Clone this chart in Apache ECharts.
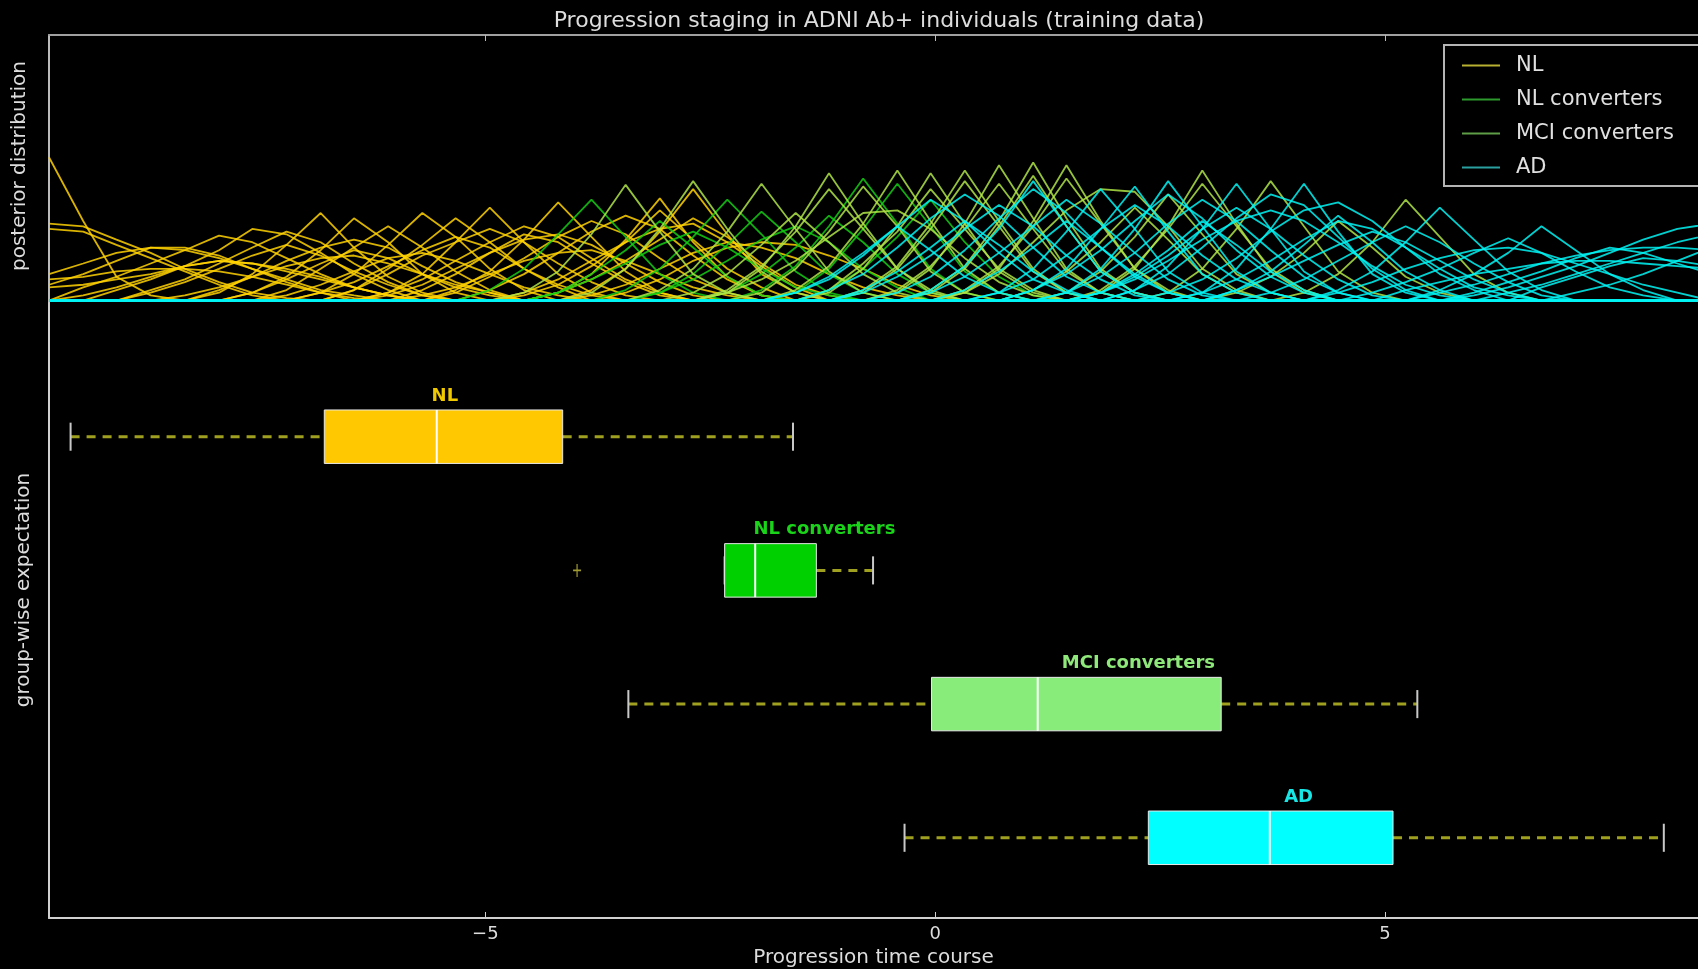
<!DOCTYPE html>
<html>
<head>
<meta charset="utf-8">
<title>Progression staging in ADNI Ab+ individuals</title>
<script src="https://cdn.jsdelivr.net/npm/echarts@6/dist/echarts.min.js"></script>
<style>
  html, body { margin: 0; padding: 0; background: #000; }
  #chart { width: 1698px; height: 969px; }
</style>
</head>
<body>
<div id="chart"></div>
<script>
// ---- data -------------------------------------------------------------

// evaluation grid of the progression time course (shared by every posterior curve)
const gridX = [-9.85, -9.47, -9.10, -8.72, -8.34, -7.96, -7.59, -7.21, -6.83, -6.46,
  -6.08, -5.70, -5.33, -4.95, -4.57, -4.19, -3.82, -3.44, -3.06, -2.69,
  -2.31, -1.93, -1.55, -1.18, -0.80, -0.42, -0.05, 0.33, 0.71, 1.09,
  1.46, 1.84, 2.22, 2.59, 2.97, 3.35, 3.73, 4.10, 4.48, 4.86,
  5.23, 5.61, 5.99, 6.37, 6.74, 7.12, 7.50, 7.87, 8.25, 8.63];

// per-individual posteriors: [first grid index, values...]; zero elsewhere
const nlCurves = [
  [0, 0.54, 0.30, 0.09, 0.02],
  [0, 0.29, 0.28, 0.23, 0.18, 0.12, 0.07, 0.03, 0.01],
  [0, 0.27, 0.26, 0.21, 0.16, 0.11, 0.06, 0.02],
  [0, 0.10, 0.14, 0.18, 0.20, 0.19, 0.16, 0.12, 0.08, 0.04, 0.02],
  [0, 0.06, 0.10, 0.15, 0.20, 0.20, 0.17, 0.12, 0.07, 0.03],
  [0, 0.08, 0.09, 0.11, 0.12, 0.12, 0.11, 0.09, 0.06, 0.03, 0.01],
  [0, 0.05, 0.06, 0.08, 0.10, 0.13, 0.15, 0.14, 0.12, 0.09, 0.05, 0.02],
  [1, 0.05, 0.09, 0.14, 0.19, 0.245, 0.22, 0.16, 0.10, 0.05, 0.02],
  [1, 0.02, 0.05, 0.09, 0.13, 0.15, 0.14, 0.11, 0.08, 0.05, 0.02],
  [2, 0.04, 0.08, 0.13, 0.19, 0.27, 0.25, 0.18, 0.10, 0.04],
  [3, 0.04, 0.08, 0.14, 0.20, 0.26, 0.22, 0.14, 0.07, 0.02],
  [3, 0.03, 0.07, 0.12, 0.17, 0.21, 0.17, 0.11, 0.06, 0.02],
  [4, 0.02, 0.05, 0.09, 0.13, 0.16, 0.17, 0.14, 0.10, 0.06, 0.03],
  [5, 0.03, 0.10, 0.21, 0.33, 0.20, 0.09, 0.03],
  [5, 0.04, 0.09, 0.15, 0.20, 0.23, 0.20, 0.13, 0.07, 0.03],
  [6, 0.03, 0.09, 0.19, 0.31, 0.22, 0.10, 0.03],
  [6, 0.03, 0.08, 0.14, 0.19, 0.16, 0.10, 0.05, 0.02],
  [7, 0.04, 0.12, 0.20, 0.28, 0.20, 0.11, 0.04],
  [7, 0.02, 0.06, 0.11, 0.16, 0.18, 0.15, 0.10, 0.05, 0.02],
  [8, 0.03, 0.10, 0.21, 0.33, 0.24, 0.12, 0.04],
  [8, 0.03, 0.07, 0.13, 0.19, 0.24, 0.20, 0.12, 0.06, 0.02],
  [9, 0.04, 0.12, 0.21, 0.31, 0.22, 0.12, 0.05],
  [9, 0.04, 0.10, 0.17, 0.22, 0.27, 0.22, 0.14, 0.07, 0.02],
  [10, 0.03, 0.10, 0.22, 0.35, 0.22, 0.10, 0.03],
  [10, 0.03, 0.08, 0.15, 0.22, 0.28, 0.24, 0.16, 0.08, 0.03],
  [10, 0.02, 0.06, 0.12, 0.18, 0.23, 0.25, 0.21, 0.14, 0.07, 0.02],
  [11, 0.04, 0.10, 0.18, 0.25, 0.22, 0.14, 0.07, 0.02],
  [11, 0.02, 0.05, 0.10, 0.15, 0.18, 0.19, 0.15, 0.10, 0.05, 0.02],
  [12, 0.04, 0.11, 0.23, 0.37, 0.24, 0.11, 0.03],
  [12, 0.03, 0.09, 0.16, 0.24, 0.30, 0.25, 0.16, 0.08, 0.03],
  [13, 0.04, 0.10, 0.18, 0.26, 0.32, 0.27, 0.17, 0.08, 0.02],
  [14, 0.03, 0.08, 0.15, 0.22, 0.27, 0.29, 0.22, 0.13, 0.05],
  [14, 0.02, 0.06, 0.13, 0.22, 0.34, 0.23, 0.12, 0.05],
  [15, 0.03, 0.10, 0.23, 0.385, 0.22, 0.09, 0.02],
  [15, 0.03, 0.08, 0.15, 0.23, 0.31, 0.24, 0.14, 0.06, 0.02],
  [16, 0.04, 0.12, 0.26, 0.42, 0.25, 0.10, 0.03],
  [16, 0.02, 0.06, 0.12, 0.18, 0.22, 0.20, 0.16, 0.10, 0.05, 0.02],
  [17, 0.03, 0.08, 0.15, 0.20, 0.22, 0.21, 0.17, 0.12, 0.06, 0.02]
];

const nlConvCurves = [
  [13, 0.04, 0.12, 0.25, 0.38, 0.24, 0.10, 0.03],
  [15, 0.03, 0.10, 0.19, 0.30, 0.20, 0.09, 0.02],
  [15, 0.03, 0.08, 0.14, 0.21, 0.26, 0.20, 0.12, 0.05, 0.02],
  [17, 0.04, 0.12, 0.24, 0.38, 0.25, 0.11, 0.03],
  [18, 0.03, 0.10, 0.21, 0.335, 0.22, 0.10, 0.03],
  [18, 0.03, 0.08, 0.15, 0.23, 0.28, 0.22, 0.12, 0.05],
  [20, 0.03, 0.10, 0.20, 0.32, 0.22, 0.10, 0.03],
  [21, 0.04, 0.13, 0.28, 0.46, 0.29, 0.12, 0.03],
  [22, 0.03, 0.12, 0.27, 0.44, 0.28, 0.11, 0.03],
  [23, 0.04, 0.12, 0.24, 0.38, 0.22, 0.09, 0.02]
];

const mciConvCurves = [
  [14, 0.03, 0.11, 0.25, 0.436, 0.26, 0.10, 0.03],
  [16, 0.03, 0.12, 0.27, 0.45, 0.27, 0.11, 0.03],
  [18, 0.04, 0.12, 0.26, 0.44, 0.27, 0.11, 0.03],
  [19, 0.03, 0.10, 0.21, 0.33, 0.22, 0.10, 0.03],
  [20, 0.03, 0.12, 0.28, 0.48, 0.29, 0.12, 0.03],
  [20, 0.04, 0.13, 0.26, 0.42, 0.27, 0.12, 0.04],
  [20, 0.03, 0.08, 0.15, 0.24, 0.33, 0.34, 0.27, 0.16, 0.07, 0.02],
  [21, 0.03, 0.12, 0.26, 0.43, 0.28, 0.11, 0.03],
  [22, 0.04, 0.13, 0.29, 0.49, 0.30, 0.12, 0.03],
  [23, 0.03, 0.12, 0.28, 0.48, 0.29, 0.11, 0.03],
  [23, 0.04, 0.14, 0.26, 0.42, 0.27, 0.12, 0.04],
  [24, 0.04, 0.13, 0.29, 0.49, 0.30, 0.12, 0.03],
  [24, 0.03, 0.12, 0.27, 0.45, 0.28, 0.11, 0.03],
  [25, 0.03, 0.12, 0.29, 0.51, 0.31, 0.12, 0.03],
  [25, 0.04, 0.13, 0.27, 0.44, 0.27, 0.11, 0.03],
  [26, 0.04, 0.13, 0.30, 0.52, 0.31, 0.12, 0.03],
  [26, 0.03, 0.12, 0.28, 0.47, 0.28, 0.11, 0.03],
  [27, 0.03, 0.12, 0.30, 0.51, 0.30, 0.12, 0.03],
  [27, 0.04, 0.13, 0.28, 0.46, 0.29, 0.12, 0.04],
  [27, 0.03, 0.10, 0.22, 0.34, 0.42, 0.41, 0.28, 0.12, 0.04],
  [29, 0.04, 0.11, 0.22, 0.35, 0.23, 0.10, 0.03],
  [30, 0.03, 0.11, 0.24, 0.40, 0.25, 0.10, 0.03],
  [31, 0.03, 0.12, 0.28, 0.49, 0.29, 0.11, 0.03],
  [31, 0.04, 0.13, 0.27, 0.44, 0.28, 0.12, 0.04],
  [33, 0.03, 0.12, 0.27, 0.45, 0.28, 0.11, 0.03],
  [35, 0.03, 0.09, 0.18, 0.30, 0.20, 0.09, 0.03],
  [37, 0.03, 0.10, 0.22, 0.38, 0.24, 0.10, 0.03]
];

const adCurves = [
  [22, 0.03, 0.08, 0.17, 0.28, 0.38, 0.30, 0.18, 0.08, 0.03],
  [22, 0.03, 0.09, 0.18, 0.28, 0.19, 0.09, 0.03],
  [23, 0.04, 0.10, 0.20, 0.31, 0.40, 0.32, 0.20, 0.09, 0.03],
  [24, 0.03, 0.09, 0.17, 0.27, 0.36, 0.28, 0.17, 0.08, 0.02],
  [24, 0.04, 0.11, 0.20, 0.30, 0.21, 0.11, 0.04],
  [25, 0.03, 0.09, 0.19, 0.31, 0.42, 0.33, 0.20, 0.09, 0.03],
  [26, 0.04, 0.13, 0.27, 0.45, 0.28, 0.11, 0.03],
  [26, 0.03, 0.09, 0.18, 0.28, 0.38, 0.29, 0.18, 0.08, 0.02],
  [27, 0.04, 0.11, 0.20, 0.30, 0.20, 0.10, 0.03],
  [28, 0.03, 0.12, 0.26, 0.42, 0.27, 0.11, 0.03],
  [28, 0.03, 0.08, 0.17, 0.27, 0.36, 0.28, 0.17, 0.08, 0.03],
  [29, 0.04, 0.12, 0.27, 0.43, 0.26, 0.10, 0.03],
  [29, 0.04, 0.10, 0.19, 0.30, 0.40, 0.31, 0.19, 0.09, 0.03],
  [30, 0.03, 0.12, 0.27, 0.45, 0.28, 0.11, 0.03],
  [30, 0.03, 0.09, 0.18, 0.29, 0.38, 0.30, 0.19, 0.09, 0.03],
  [31, 0.03, 0.08, 0.15, 0.23, 0.30, 0.34, 0.30, 0.22, 0.13, 0.06, 0.02],
  [31, 0.03, 0.09, 0.17, 0.27, 0.35, 0.27, 0.17, 0.08, 0.02],
  [31, 0.03, 0.10, 0.19, 0.30, 0.21, 0.11, 0.04],
  [32, 0.04, 0.13, 0.27, 0.44, 0.27, 0.11, 0.03],
  [32, 0.04, 0.10, 0.20, 0.31, 0.40, 0.36, 0.24, 0.12, 0.04],
  [33, 0.03, 0.08, 0.16, 0.26, 0.34, 0.37, 0.30, 0.20, 0.10, 0.04],
  [34, 0.03, 0.12, 0.27, 0.44, 0.26, 0.10, 0.03],
  [34, 0.03, 0.08, 0.15, 0.23, 0.30, 0.27, 0.20, 0.12, 0.05, 0.02],
  [35, 0.04, 0.11, 0.21, 0.32, 0.22, 0.11, 0.04],
  [35, 0.04, 0.09, 0.15, 0.21, 0.26, 0.22, 0.15, 0.08, 0.03],
  [36, 0.03, 0.08, 0.15, 0.22, 0.28, 0.22, 0.14, 0.07, 0.02],
  [38, 0.04, 0.11, 0.22, 0.35, 0.23, 0.11, 0.04],
  [38, 0.03, 0.07, 0.12, 0.16, 0.19, 0.20, 0.18, 0.14, 0.10, 0.06, 0.03],
  [39, 0.03, 0.07, 0.12, 0.18, 0.235, 0.18, 0.11, 0.05, 0.02],
  [40, 0.04, 0.07, 0.10, 0.12, 0.14, 0.15, 0.15, 0.14, 0.13, 0.12],
  [41, 0.04, 0.10, 0.18, 0.28, 0.19, 0.10, 0.04],
  [41, 0.03, 0.06, 0.10, 0.14, 0.17, 0.19, 0.20, 0.20, 0.19],
  [42, 0.02, 0.05, 0.09, 0.13, 0.18, 0.23, 0.27, 0.29],
  [42, 0.03, 0.07, 0.11, 0.16, 0.20, 0.18, 0.14, 0.10],
  [43, 0.03, 0.06, 0.10, 0.14, 0.18, 0.22, 0.25],
  [44, 0.05, 0.09, 0.13, 0.16, 0.15, 0.13],
  [45, 0.03, 0.06, 0.10, 0.15, 0.20]
];

// group-wise expectation summaries (time course units)
const groupNames = ['NL', 'NL converters', 'MCI converters', 'AD'];
const boxLow    = [-9.61, -2.34, -3.41, -0.34];
const boxQ1     = [-6.79, -2.34, -0.04, 2.37];
const boxMedian = [-5.54, -2.00, 1.14, 3.72];
const boxQ3     = [-4.14, -1.32, 3.18, 5.09];
const boxHigh   = [-1.58, -0.69, 5.36, 8.10];
const outliers  = [[-3.98, 2]];            // [value, group position]
const labelX    = [-5.45, -1.23, 2.26, 4.04];
const tickValues = [-5, 0, 5];

// ---- styles -----------------------------------------------------------
const lineColors   = ['rgba(255,210,0,0.85)', 'rgba(20,205,20,0.85)', 'rgba(175,228,70,0.85)', 'rgba(0,245,245,0.85)'];
const legendColors = ['#b8b030', '#2c9a2c', '#5e9e46', '#2aa0a0'];
const boxColors    = ['#ffc800', '#00d000', '#88ec7a', '#00ffff'];
const labelColors  = ['#f0c800', '#1ad41a', '#8ee87a', '#18e6e6'];
const FONT = 'DejaVu Sans';
const X_MIN = -9.85, X_MAX = 8.48;

// ---- build ------------------------------------------------------------
function expand(curve) {
  const start = curve[0];
  const vals = curve.slice(1);
  return gridX.map((x, i) => [x, (i >= start && i < start + vals.length) ? vals[i - start] : 0]);
}

const curveGroups = [nlCurves, nlConvCurves, mciConvCurves, adCurves];
const lineSeries = [];
curveGroups.forEach((curves, g) => {
  curves.forEach(c => {
    lineSeries.push({
      type: 'line', name: groupNames[g], xAxisIndex: 0, yAxisIndex: 0,
      data: expand(c), showSymbol: false, silent: true, clip: true,
      color: lineColors[g],
      lineStyle: { color: lineColors[g], width: 1.8 }
    });
  });
});

const boxData = groupNames.map((n, i) =>
  [i + 1, boxLow[i], boxQ1[i], boxMedian[i], boxQ3[i], boxHigh[i], labelX[i]]);

function renderBox(params, api) {
  const i = params.dataIndex;
  const pos = api.value(0);
  const lo = api.value(1), q1 = api.value(2), med = api.value(3), q3 = api.value(4), hi = api.value(5), lx = api.value(6);
  const X = v => api.coord([v, pos])[0];
  const yc = api.coord([0, pos])[1];
  const half = api.size([0, 0.4])[1] / 2;
  const capHalf = api.size([0, 0.21])[1] / 2;
  const whisker = { stroke: '#a0a020', lineWidth: 3, lineDash: [9, 7] };
  const cap = { stroke: '#c8c8c8', lineWidth: 2 };
  const children = [];
  if (X(q1) - X(lo) > 1) {
    children.push({ type: 'line', shape: { x1: X(lo), y1: yc, x2: X(q1), y2: yc }, style: whisker });
  }
  children.push({ type: 'line', shape: { x1: X(q3), y1: yc, x2: X(hi), y2: yc }, style: whisker });
  children.push({ type: 'line', shape: { x1: X(lo), y1: yc - capHalf, x2: X(lo), y2: yc + capHalf }, style: cap });
  children.push({ type: 'line', shape: { x1: X(hi), y1: yc - capHalf, x2: X(hi), y2: yc + capHalf }, style: cap });
  children.push({ type: 'rect', shape: { x: X(q1), y: yc - half, width: X(q3) - X(q1), height: 2 * half },
    style: { fill: boxColors[i], stroke: '#e8e8e8', lineWidth: 1 } });
  children.push({ type: 'line', shape: { x1: X(med), y1: yc - half, x2: X(med), y2: yc + half },
    style: { stroke: '#ffffff', lineWidth: 2 } });
  children.push({ type: 'text', x: X(lx), y: yc - half - 5,
    style: { text: groupNames[i], fill: labelColors[i], font: 'bold 18px "' + FONT + '"',
      textAlign: 'center', textVerticalAlign: 'bottom' } });
  return { type: 'group', children };
}

const option = {
  backgroundColor: '#000',
  animation: false,
  textStyle: { fontFamily: FONT },
  grid: [
    { left: 49, right: 0, top: 35, height: 271, outerBoundsMode: 'none' },
    { left: 49, right: 0, top: 303, height: 615, outerBoundsMode: 'none' }
  ],
  xAxis: [
    {
      type: 'value', gridIndex: 0, min: X_MIN, max: X_MAX, position: 'top',
      axisLine: { onZero: false, lineStyle: { color: '#a0a0a0', width: 2 } },
      axisTick: { inside: true, length: 6, customValues: tickValues, lineStyle: { color: '#bbbbbb', width: 1 } },
      axisLabel: { show: false }, splitLine: { show: false }
    },
    {
      type: 'value', gridIndex: 1, min: X_MIN, max: X_MAX, position: 'bottom',
      axisLine: { onZero: false, lineStyle: { color: '#d0d0d0', width: 2 } },
      axisTick: { inside: true, length: 6, customValues: tickValues, lineStyle: { color: '#d0d0d0', width: 1 } },
      axisLabel: { customValues: tickValues, color: '#dddddd', fontSize: 18, margin: 7,
        formatter: v => String(v).replace('-', '\u2212') },
      splitLine: { show: false },
      name: 'Progression time course', nameLocation: 'middle', nameGap: 30,
      nameTextStyle: { color: '#dddddd', fontSize: 20, fontFamily: FONT }
    }
  ],
  yAxis: [
    {
      type: 'value', gridIndex: 0, min: -0.02, max: 1,
      axisLine: { show: true, onZero: false, lineStyle: { color: '#bbbbbb', width: 2 } },
      axisTick: { show: false }, axisLabel: { show: false }, splitLine: { show: false }
    },
    {
      type: 'value', gridIndex: 1, min: 0, max: 4.6, inverse: true,
      axisLine: { show: true, onZero: false, lineStyle: { color: '#d0d0d0', width: 2 } },
      axisTick: { show: false }, axisLabel: { show: false }, splitLine: { show: false }
    }
  ],
  legend: {
    data: groupNames.map((n, i) => ({ name: n, itemStyle: { color: legendColors[i] } })),
    orient: 'vertical', left: 1444, top: 45,
    icon: 'rect', itemWidth: 38, itemHeight: 2, itemGap: 13,
    padding: [10, 60, 8, 18],
    borderColor: '#b4b4b4', borderWidth: 2, backgroundColor: '#000',
    selectedMode: false,
    textStyle: { color: '#e0e0e0', fontSize: 21, fontFamily: FONT, padding: [0, 0, 0, 11] }
  },
  graphic: [
    { type: 'text', x: 879, y: 21,
      style: { text: 'Progression staging in ADNI Ab+ individuals (training data)', fill: '#dddddd',
        font: '22px "' + FONT + '"', textAlign: 'center', textVerticalAlign: 'middle' } },
    { type: 'text', x: 20, y: 166, rotation: Math.PI / 2,
      style: { text: 'posterior distribution', fill: '#dddddd',
        font: '20px "' + FONT + '"', textAlign: 'center', textVerticalAlign: 'middle' } },
    { type: 'text', x: 24, y: 590, rotation: Math.PI / 2,
      style: { text: 'group-wise expectation', fill: '#dddddd',
        font: '20px "' + FONT + '"', textAlign: 'center', textVerticalAlign: 'middle' } }
  ],
  series: lineSeries.concat([
    {
      type: 'custom', xAxisIndex: 1, yAxisIndex: 1, silent: true,
      data: boxData, encode: { x: [1, 2, 3, 4, 5], y: 0 },
      renderItem: renderBox
    },
    {
      type: 'scatter', xAxisIndex: 1, yAxisIndex: 1, silent: true,
      data: outliers,
      symbol: 'path://M5,0 L5,10 M0,5 L10,5', symbolSize: [8, 13],
      itemStyle: { color: 'none', borderColor: '#c8c040', borderWidth: 1.5 }
    }
  ])
};

const chart = echarts.init(document.getElementById('chart'), null, { renderer: 'canvas' });
chart.setOption(option);
</script>
</body>
</html>
